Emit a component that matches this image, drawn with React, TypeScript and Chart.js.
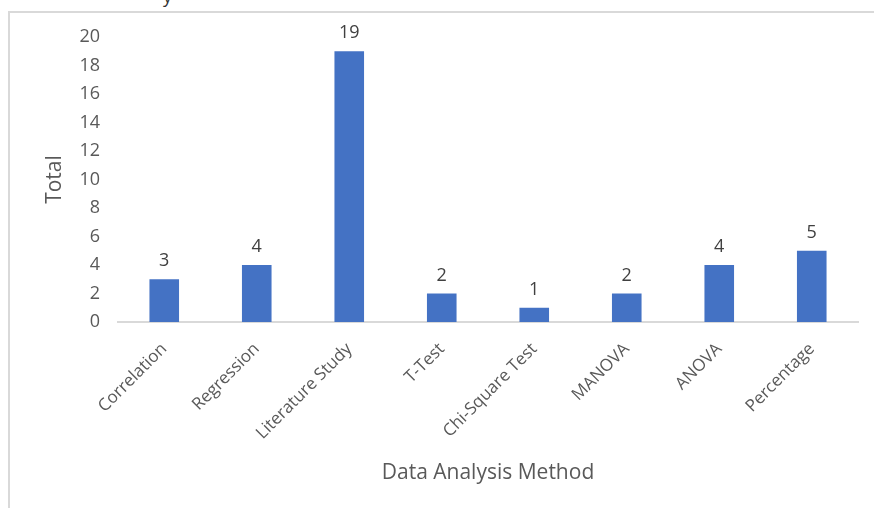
import React, { useEffect, useRef } from "react";
import { Chart, registerables } from "chart.js";

Chart.register(...registerables);

const categories = [
  "Correlation",
  "Regression",
  "Literature Study",
  "T-Test",
  "Chi-Square Test",
  "MANOVA",
  "ANOVA",
  "Percentage",
];
const totals = [3, 4, 19, 2, 1, 2, 4, 5];
const yTicks = [0, 2, 4, 6, 8, 10, 12, 14, 16, 18, 20];
const xTitle = "Data Analysis Method";
const yTitle = "Total";

const FONT = "'Open Sans', 'Noto Sans', sans-serif";
const TEXT = "#595959";

const dataLabels = {
  id: "dataLabels",
  afterDatasetsDraw(chart: any) {
    const { ctx } = chart;
    const meta = chart.getDatasetMeta(0);
    ctx.save();
    ctx.font = `18px ${FONT}`;
    ctx.fillStyle = "#404040";
    ctx.textAlign = "center";
    ctx.textBaseline = "middle";
    meta.data.forEach((bar: any, i: number) => {
      ctx.fillText(String(chart.data.datasets[0].data[i]), bar.x, bar.y - 18);
    });
    ctx.restore();
  },
};

export default function App() {
  const ref = useRef<HTMLCanvasElement>(null);
  useEffect(() => {
    document.body.style.margin = "0";
    const chart = new Chart(ref.current!, {
      type: "bar",
      data: {
        labels: categories,
        datasets: [
          {
            data: totals,
            backgroundColor: "#4472C4",
            categoryPercentage: 1,
            barPercentage: 0.32,
          },
        ],
      },
      options: {
        animation: false,
        responsive: false,
        maintainAspectRatio: false,
        layout: { padding: { left: 0, top: 37, right: 16, bottom: 0 } },
        plugins: { legend: { display: false }, tooltip: { enabled: false } },
        scales: {
          x: {
            grid: { display: false, drawTicks: false },
            border: { display: true, color: "#D9D9D9", width: 2 },
            ticks: {
              color: TEXT,
              font: { family: FONT, size: 17 },
              minRotation: 45,
              maxRotation: 45,
              padding: 17,
              labelOffset: 0,
              autoSkip: false,
            },
            title: {
              display: true,
              text: xTitle,
              color: TEXT,
              font: { family: FONT, size: 21 },
              padding: { top: 0, bottom: 22 },
            },
            afterFit: (s: any) => {
              s.height = 508 - 322;
            },
          },
          y: {
            min: 0,
            max: 20,
            grid: { display: false, drawTicks: false },
            border: { display: false },
            afterBuildTicks: (s: any) => {
              s.ticks = yTicks.map((v) => ({ value: v }));
            },
            ticks: {
              color: TEXT,
              font: { family: FONT, size: 18 },
              padding: 18,
            },
            title: {
              display: true,
              text: yTitle,
              color: TEXT,
              font: { family: FONT, size: 21 },
              padding: { top: 42, bottom: 0 },
            },
            afterFit: (s: any) => {
              s.width = 118;
            },
          },
        },
      },
      plugins: [dataLabels],
    });
    return () => chart.destroy();
  }, []);

  return (
    <div
      style={{
        position: "fixed",
        left: 0,
        top: 0,
        width: 874,
        height: 508,
        background: "#fff",
        overflow: "hidden",
      }}
    >
      <div
        style={{
          position: "absolute",
          left: 8,
          top: 11,
          right: 0,
          bottom: 0,
          borderTop: "2px solid #D9D9D9",
          borderLeft: "2px solid #D9D9D9",
        }}
      />
      <div
        style={{
          position: "absolute",
          left: 163,
          top: -16,
          fontFamily: FONT,
          fontSize: 18,
          color: "#333",
        }}
      >
        y
      </div>
      <canvas
        ref={ref}
        width={874}
        height={508}
        style={{ position: "absolute", left: 0, top: 0 }}
      />
    </div>
  );
}
